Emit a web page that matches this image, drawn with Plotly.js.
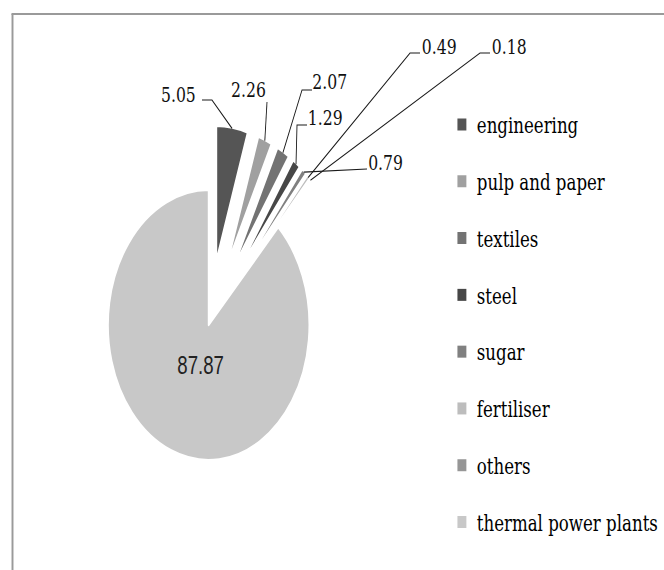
<!DOCTYPE html>
<html><head><meta charset="utf-8">
<script src="https://cdn.plot.ly/plotly-3.0.1.min.js"></script>
<style>
html,body{margin:0;padding:0;background:#fff;overflow:hidden;}
#wrap{width:664px;height:570px;overflow:hidden;position:relative;background:#fff;}
#chart{position:absolute;left:0;top:0;width:910px;height:570px;transform:scaleX(0.74523);transform-origin:0 0;}
</style></head><body>
<div id="wrap"><div id="chart"></div></div>
<script>
// ---- data ----
const categories = ['engineering', 'pulp and paper', 'textiles', 'steel', 'sugar', 'fertiliser', 'others', 'thermal power plants'];
const values = [5.05, 2.26, 2.07, 1.29, 0.79, 0.49, 0.18, 87.87];

// ---- styles ----
const colors = ['#555555', '#a0a0a0', '#737373', '#474747', '#808080', '#bdbdbd', '#969696', '#c8c8c8'];
const pulls = [0.48, 0.48, 0.48, 0.48, 0.48, 0.48, 0.48, 0];

const W0 = 910, H = 570, S = 0.74523;
// pie box (unscaled px)
const box = {x0: 80, x1: 480, y0: 125, y1: 525};
const maxPull = Math.max(...pulls);
const cx = (box.x0 + box.x1) / 2, cy = (box.y0 + box.y1) / 2;
const R = Math.min(box.x1 - box.x0, box.y1 - box.y0) / 2 / (1 + maxPull);

// label placement in final (on-screen) pixels: text centre and leader bend points
const labelPos = [
  {t: [178.5, 95.5], pts: [[212, 100], [202, 100]]},
  {t: [248.5, 90.5], pts: [[267, 102]]},
  {t: [330, 81.5], pts: [[302, 90], [312, 90]]},
  {t: [325.5, 118.5], pts: [[297, 125], [307, 125]]},
  {t: [385.5, 162.5], pts: [[367, 169]]},
  {t: [439.5, 46.5], pts: [[410, 53], [420, 53]]},
  {t: [509.5, 46.5], pts: [[480, 53], [490, 53]]},
  null
];
const bigLabelOffset = [-8, 40]; // final px from pie centre

const px = x => x / S / W0;          // final x px -> paper
const py = y => 1 - y / H;           // y px -> paper

const traces = [{
  type: 'pie',
  labels: categories,
  values: values,
  sort: false,
  direction: 'clockwise',
  rotation: 0,
  pull: pulls,
  marker: {colors: colors, line: {color: '#ffffff', width: 2.4}},
  textinfo: 'none',
  hoverinfo: 'label+value',
  showlegend: false,
  domain: {x: [box.x0 / W0, box.x1 / W0], y: [1 - box.y1 / H, 1 - box.y0 / H]}
}];
// legend entries (one group each so that the gap can be set)
categories.forEach((c, i) => {
  traces.push({
    type: 'bar', x: [null], y: [null], name: c, legendgroup: 'g' + i,
    marker: {color: colors[i], line: {width: 0}}, showlegend: true, hoverinfo: 'skip'
  });
});

const annotations = [];
const shapes = [];
const total = values.reduce((a, b) => a + b, 0);
let cum = 0;
values.forEach((v, i) => {
  const a0 = cum / total * 2 * Math.PI;
  cum += v;
  const a1 = cum / total * 2 * Math.PI;
  const mid = (a0 + a1) / 2;
  const lp = labelPos[i];
  if (lp) {
    const rr = R * (1 + pulls[i]) - 1;
    const hx = (cx + rr * Math.sin(mid)) * S;   // final px
    const hy = cy - rr * Math.cos(mid);
    let path = 'M' + px(hx) + ',' + py(hy);
    lp.pts.forEach(p => { path += ' L' + px(p[0]) + ',' + py(p[1]); });
    shapes.push({type: 'path', xref: 'paper', yref: 'paper', path: path,
      line: {color: '#1a1a1a', width: 1.2}});
    annotations.push({xref: 'paper', yref: 'paper', x: px(lp.t[0]), y: py(lp.t[1]),
      text: v.toFixed(2), showarrow: false, xanchor: 'center', yanchor: 'middle',
      font: {family: 'DejaVu Serif', size: 21, color: '#111111'}});
  } else {
    annotations.push({xref: 'paper', yref: 'paper',
      x: px(cx * S + bigLabelOffset[0]), y: py(cy + bigLabelOffset[1]),
      text: v.toFixed(2), showarrow: false, xanchor: 'center', yanchor: 'middle',
      font: {family: 'Liberation Sans', size: 25, color: '#222222'}});
  }
});

// frame
shapes.push({type: 'line', xref: 'paper', yref: 'paper', x0: px(12.5), x1: px(12.5), y0: py(14), y1: py(575),
  line: {color: '#9a9a9a', width: 2.6}});
shapes.push({type: 'line', xref: 'paper', yref: 'paper', x0: px(11.5), x1: px(668), y0: py(14), y1: py(14),
  line: {color: '#9a9a9a', width: 2}});

const layout = {
  width: W0, height: H,
  margin: {l: 0, r: 0, t: 0, b: 0},
  paper_bgcolor: '#ffffff', plot_bgcolor: 'rgba(0,0,0,0)',
  xaxis: {visible: false}, yaxis: {visible: false},
  showlegend: true,
  legend: {x: px(447), y: py(103.5), xanchor: 'left', yanchor: 'top',
    traceorder: 'grouped', tracegroupgap: 24.8,
    font: {family: 'DejaVu Serif', size: 22.3, color: '#000000'},
    bgcolor: 'rgba(0,0,0,0)', borderwidth: 0},
  annotations: annotations,
  shapes: shapes
};
Plotly.newPlot('chart', traces, layout, {staticPlot: true, displayModeBar: false});
</script>
</body></html>
